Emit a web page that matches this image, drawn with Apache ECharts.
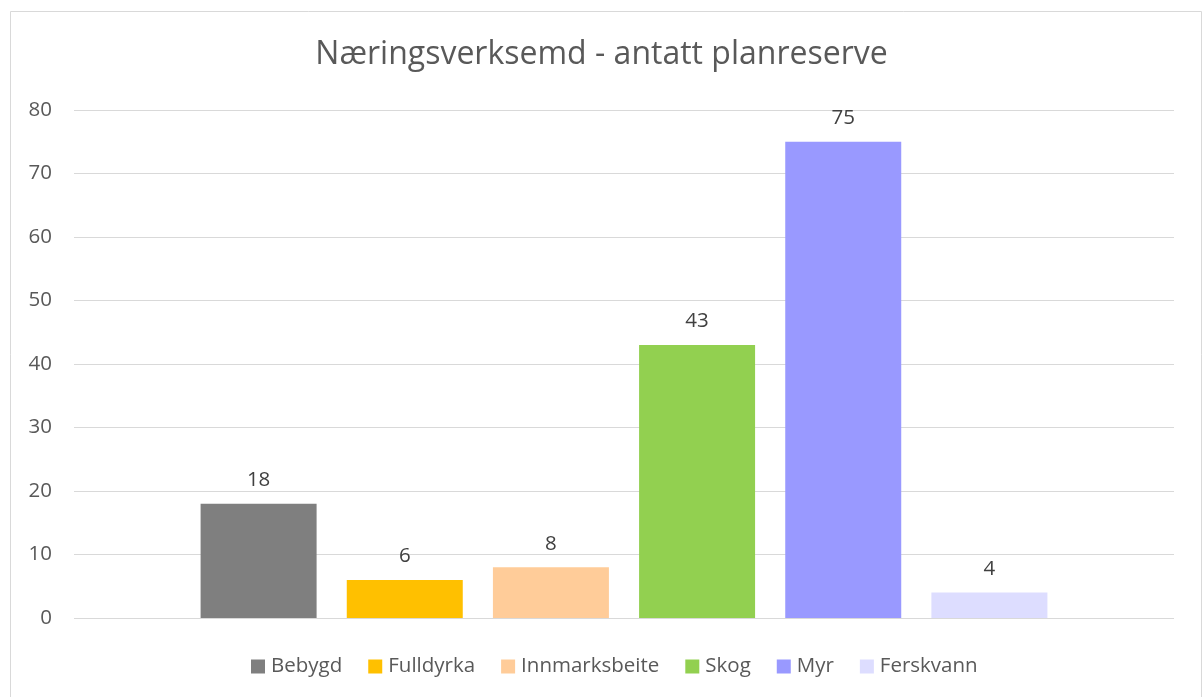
<!DOCTYPE html>
<html>
<head>
<meta charset="utf-8">
<script src="https://cdn.jsdelivr.net/npm/echarts@6/dist/echarts.min.js"></script>
<style>
  html, body { margin: 0; padding: 0; background: #fff; }
  #chart { width: 1203px; height: 697px; }
</style>
</head>
<body>
<div id="chart"></div>
<script>
// data
const title = "Næringsverksemd - antatt planreserve"
const categories = ["Næringsverksemd"]
const seriesNames = ["Bebygd", "Fulldyrka", "Innmarksbeite", "Skog", "Myr", "Ferskvann"]
const seriesValues = [18, 6, 8, 43, 75, 4]
const seriesColors = ["#7f7f7f", "#ffc000", "#ffcc99", "#92d050", "#9999ff", "#ddddff"]
const yTicks = { min: 0, max: 80, interval: 10 }

const font = "'Open Sans', 'Noto Sans', sans-serif"

let myChart = echarts.init(document.getElementById("chart"))

myChart.setOption({
  animation: false,
  backgroundColor: "#fff",
  textStyle: { fontFamily: font },
  title: {
    text: title,
    left: "center",
    top: 34,
    textStyle: {
      fontFamily: font,
      fontSize: 32,
      fontWeight: "normal",
      color: "#595959",
    },
  },
  // rahmen rundt diagrammet
  graphic: [
    {
      type: "rect",
      shape: { x: 10.5, y: 11.5, width: 1191, height: 720 },
      style: { fill: "none", stroke: "#d9d9d9", lineWidth: 1 },
      silent: true,
    },
  ],
  legend: {
    data: seriesNames,
    bottom: 15,
    left: 246,
    itemWidth: 14,
    itemHeight: 14,
    itemGap: 26,
    icon: "rect",
    textStyle: { fontFamily: font, fontSize: 20.5, color: "#595959", padding: [0, 0, 0, 1] },
  },
  grid: {
    left: 74,
    right: 29,
    top: 110,
    bottom: 79,
    containLabel: false,
  },
  xAxis: {
    type: "category",
    data: categories,
    axisLine: { show: false },
    axisTick: { show: false },
    axisLabel: { show: false },
  },
  yAxis: {
    type: "value",
    min: yTicks.min,
    max: yTicks.max,
    interval: yTicks.interval,
    axisLine: { show: false },
    axisTick: { show: false },
    axisLabel: { margin: 22, fontFamily: font, fontSize: 20.5, color: "#595959" },
    splitLine: { lineStyle: { color: "#d9d9d9", width: 1 } },
  },
  series: seriesNames.map((name, i) => ({
    name: name,
    type: "bar",
    data: [seriesValues[i]],
    barWidth: 116,
    barGap: "26%",
    itemStyle: { color: seriesColors[i] },
    label: {
      show: true,
      position: "top",
      distance: 13,
      fontFamily: font,
      fontSize: 20.5,
      color: "#404040",
    },
  })),
})
</script>
</body>
</html>
